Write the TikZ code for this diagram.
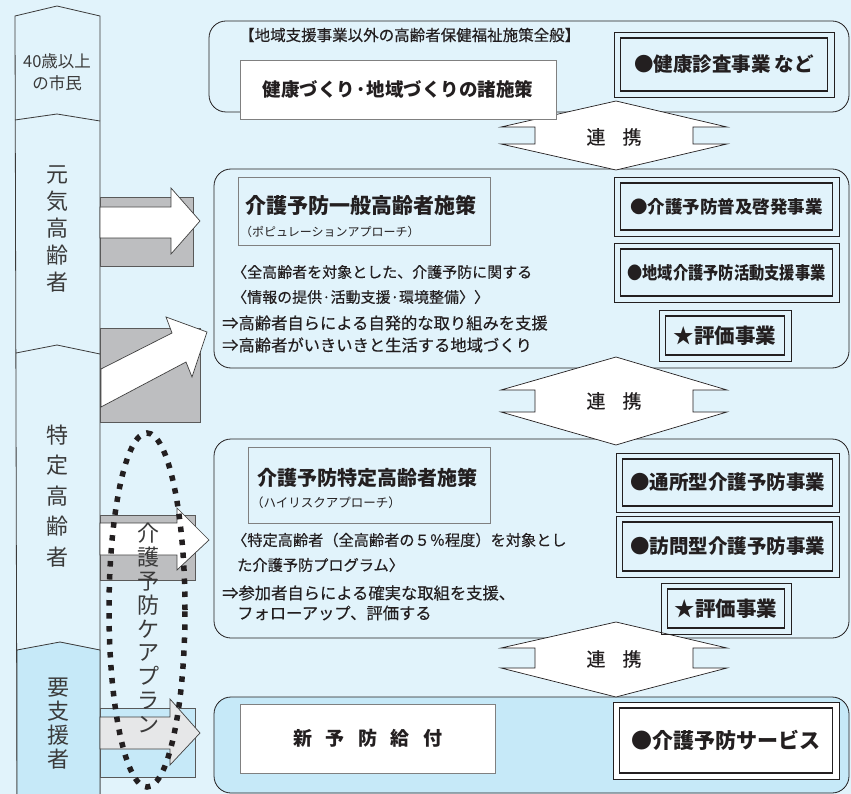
\documentclass[tikz,border=0pt]{standalone}
\usepackage{fontspec}
\setmainfont{Noto Sans CJK JP}
\newfontfamily\medfont{Noto Sans CJK JP}[BoldFont={Noto Sans CJK JP}, BoldFeatures={FakeBold=0.35}]
\definecolor{bg}{HTML}{E1F3FB}
\definecolor{bgdeep}{HTML}{C6E9F8}
\definecolor{grayfill}{HTML}{BDBEC0}
\definecolor{lgray}{HTML}{E6E7E8}
\definecolor{ink}{HTML}{231F20}
\definecolor{softink}{HTML}{3A3A3A}
\definecolor{boxedge}{HTML}{808080}
\tikzset{
 panel/.style={draw=ink, line width=0.8pt, rounded corners=17pt},
 linkarrow/.style={draw=ink, fill=white, line width=0.7pt},
 plainbox/.style={draw=boxedge, line width=0.9pt},
 graybox/.style={draw=black!65, fill=grayfill, line width=0.8pt},
 bigarrow/.style={draw=black!75, fill=white, line width=0.7pt},
 txt/.style={inner sep=0pt, text=ink},
 coltxt/.style={inner sep=0pt, text=softink, align=center},
}
\newcommand{\mydblbox}[8]{%
  \draw[ink, line width=0.9pt, fill=#8] (#2,#3) rectangle (#4,#5);
  \draw[ink, line width=1.7pt] ({#2+6.5},{#3+6}) rectangle ({#4-6.5},{#5-6});
  \node[txt, font=\bfseries\fontsize{#6}{#6}\selectfont] (#1) at ({(#2+#4)/2},{(#3+#5)/2}) {#7};
}
\newcommand{\mylink}[6]{%
  \draw[linkarrow] (616,#1) -- (727,#2) -- (693,#2) -- (693,#3) -- (727,#3) -- (616,#4)
     -- (501,#3) -- (535,#3) -- (535,#2) -- (501,#2) -- cycle;
  \node[txt, font=\medfont\bfseries\fontsize{19}{19}\selectfont] (#6) at (614,#5) {連\hspace{17pt}携};
}
\begin{document}
\begin{tikzpicture}[x=1pt,y=-1pt]
\fill[bg] (0,0) rectangle (851,794);
\useasboundingbox (0,0) rectangle (851,794);

% left column
\draw[softink, line width=0.8pt, fill=bg] (15,16) -- (57,6) -- (100,16) -- (100,800) -- (17,800) -- cycle;
\draw[softink, line width=0.8pt] (15,120) -- (57,114) -- (100,121);
\draw[softink, line width=0.8pt] (16,353) -- (57,345) -- (100,354);
\draw[softink, line width=0.8pt, fill=bgdeep] (17,650) -- (60,642) -- (100,650) -- (100,800) -- (17,800) -- cycle;

\node[coltxt, font=\fontsize{16.5}{22}\selectfont] (citizen) at (57,72) {40歳以上\\の市民};
\node[coltxt, font=\fontsize{22}{27}\selectfont] (genki) at (57,229) {元\\気\\高\\齢\\者};
\node[coltxt, font=\fontsize{22}{30.5}\selectfont] (tokutei) at (57,496) {特\\定\\高\\齢\\者};
\node[coltxt, font=\fontsize{22}{24}\selectfont] (yoshien) at (58,724) {要\\支\\援\\者};

% arrows from the column
\draw[graybox] (100,197) rectangle (193,266);
\draw[bigarrow] (100,207) -- (171,207) -- (171,188) -- (200,221) -- (171,254) -- (171,238) -- (100,238) -- cycle;

\draw[graybox] (100,328) rectangle (200,422);
\draw[bigarrow] (101,369) -- (172,333) -- (166,317) -- (207,332) -- (192,377) -- (186,362) -- (101,407) -- cycle;

\draw[graybox] (100,515) rectangle (195,580);
\draw[bigarrow] (100,523) -- (177,523) -- (177,508) -- (209,540) -- (177,570) -- (177,555) -- (100,555) -- cycle;

\draw[draw=black!65, fill=bgdeep, line width=0.8pt] (100,708) rectangle (195,777);
\draw[bigarrow, fill=lgray] (100,717) -- (170,717) -- (170,699) -- (200,733) -- (170,765) -- (170,749) -- (100,749) -- cycle;

% care plan ellipse
\draw[ink, line width=5.5pt, dash pattern=on 5.5pt off 7.5pt] (147,610) ellipse [x radius=38pt, y radius=177pt];
\node[coltxt, font=\fontsize{22}{23.9}\selectfont] (careplan) at (148,628) {介\\護\\予\\防\\ケ\\ア\\プ\\ラ\\ン};

% panels
\draw[panel] (209,21) rectangle (849,112);
\draw[panel] (214,169) rectangle (849,368);
\draw[panel] (214,439) rectangle (849,638);
\draw[panel, fill=bgdeep] (214,697) rectangle (849,793);

% link arrows
\mylink{101}{127}{144}{170}{137}{link1}
\mylink{357}{390}{412}{445}{401}{link2}
\mylink{622}{648}{668}{697}{659}{link3}

% top panel
\node[txt, anchor=west, font=\medfont\bfseries\fontsize{15.5}{16}\selectfont] (toph) at (239,35) {【地域支援事業以外の高齢者保健福祉施策全般】};
\node[plainbox, fill=white, minimum width=316pt, minimum height=59pt, inner sep=0pt, text=ink,
      font=\bfseries\fontsize{18.5}{19}\selectfont] (kenko) at (398,89.5) {健康づくり·地域づくりの諸施策};
\mydblbox{kenshin}{614}{32}{834}{97}{19.5}{●健康診査事業 など}{none}

% panel 2
\draw[plainbox] (238,177) rectangle (490,245);
\node[txt, anchor=west, font=\bfseries\fontsize{21}{21}\selectfont] (ippan) at (245,205) {介護予防一般高齢者施策};
\node[txt, anchor=west, font=\fontsize{12}{12}\selectfont] (popu) at (240,232) {（ポピュレーションアプローチ）};
\node[txt, anchor=west, font=\medfont\bfseries\fontsize{15}{15}\selectfont] (p2l1) at (232,272) {〈全高齢者を対象とした、介護予防に関する};
\node[txt, anchor=west, font=\medfont\bfseries\fontsize{15}{15}\selectfont] (p2l2) at (232,297) {〈情報の提供·活動支援·環境整備〉〉};
\node[txt, anchor=west, font=\medfont\bfseries\fontsize{16.3}{16}\selectfont] (p2l3) at (222,323) {⇒高齢者自らによる自発的な取り組みを支援};
\node[txt, anchor=west, font=\medfont\bfseries\fontsize{16.3}{16}\selectfont] (p2l4) at (222,345) {⇒高齢者がいきいきと生活する地域づくり};
\mydblbox{fukyu}{614}{177}{839}{236}{17.5}{●介護予防普及啓発事業}{none}
\mydblbox{chiiki}{614}{243}{839}{302}{17.5}{\scalebox{0.87}[1]{●地域介護予防活動支援事業}}{none}
\mydblbox{hyoka1}{659}{310}{791}{361}{20.5}{★評価事業}{none}

% panel 3
\draw[plainbox] (248,447) rectangle (490,523);
\node[txt, anchor=west, font=\bfseries\fontsize{20}{20}\selectfont] (tokuteisaku) at (257,478) {介護予防特定高齢者施策};
\node[txt, anchor=west, font=\fontsize{12.5}{12}\selectfont] (hirisk) at (251,503) {（ハイリスクアプローチ）};
\node[txt, anchor=west, font=\medfont\bfseries\fontsize{15.2}{15}\selectfont] (p3l1) at (232,540) {〈特定高齢者（全高齢者の５％程度）を対象とし};
\node[txt, anchor=west, font=\medfont\bfseries\fontsize{15.2}{15}\selectfont] (p3l2) at (237,565) {た介護予防プログラム〉};
\node[txt, anchor=west, font=\medfont\bfseries\fontsize{16.3}{16}\selectfont] (p3l3) at (222,593) {⇒参加者自らによる確実な取組を支援、};
\node[txt, anchor=west, font=\medfont\bfseries\fontsize{16.3}{16}\selectfont] (p3l4) at (237,613) {フォローアップ、評価する};
\mydblbox{tsusho}{616}{453}{839}{512}{19.5}{●通所型介護予防事業}{none}
\mydblbox{homon}{616}{516}{839}{577}{19.5}{●訪問型介護予防事業}{none}
\mydblbox{hyoka2}{661}{583}{791}{634}{20.5}{★評価事業}{none}

% bottom panel
\node[plainbox, fill=white, minimum width=255pt, minimum height=69pt, inner sep=0pt, text=ink,
      font=\bfseries\fontsize{19}{19}\selectfont] (shinyobo) at (367.5,738.5)
      {新\hspace{13.5pt}予\hspace{13.5pt}防\hspace{13.5pt}給\hspace{13.5pt}付};
\mydblbox{service}{613}{702}{839}{779}{21}{●介護予防サービス}{white}
\end{tikzpicture}
\end{document}
